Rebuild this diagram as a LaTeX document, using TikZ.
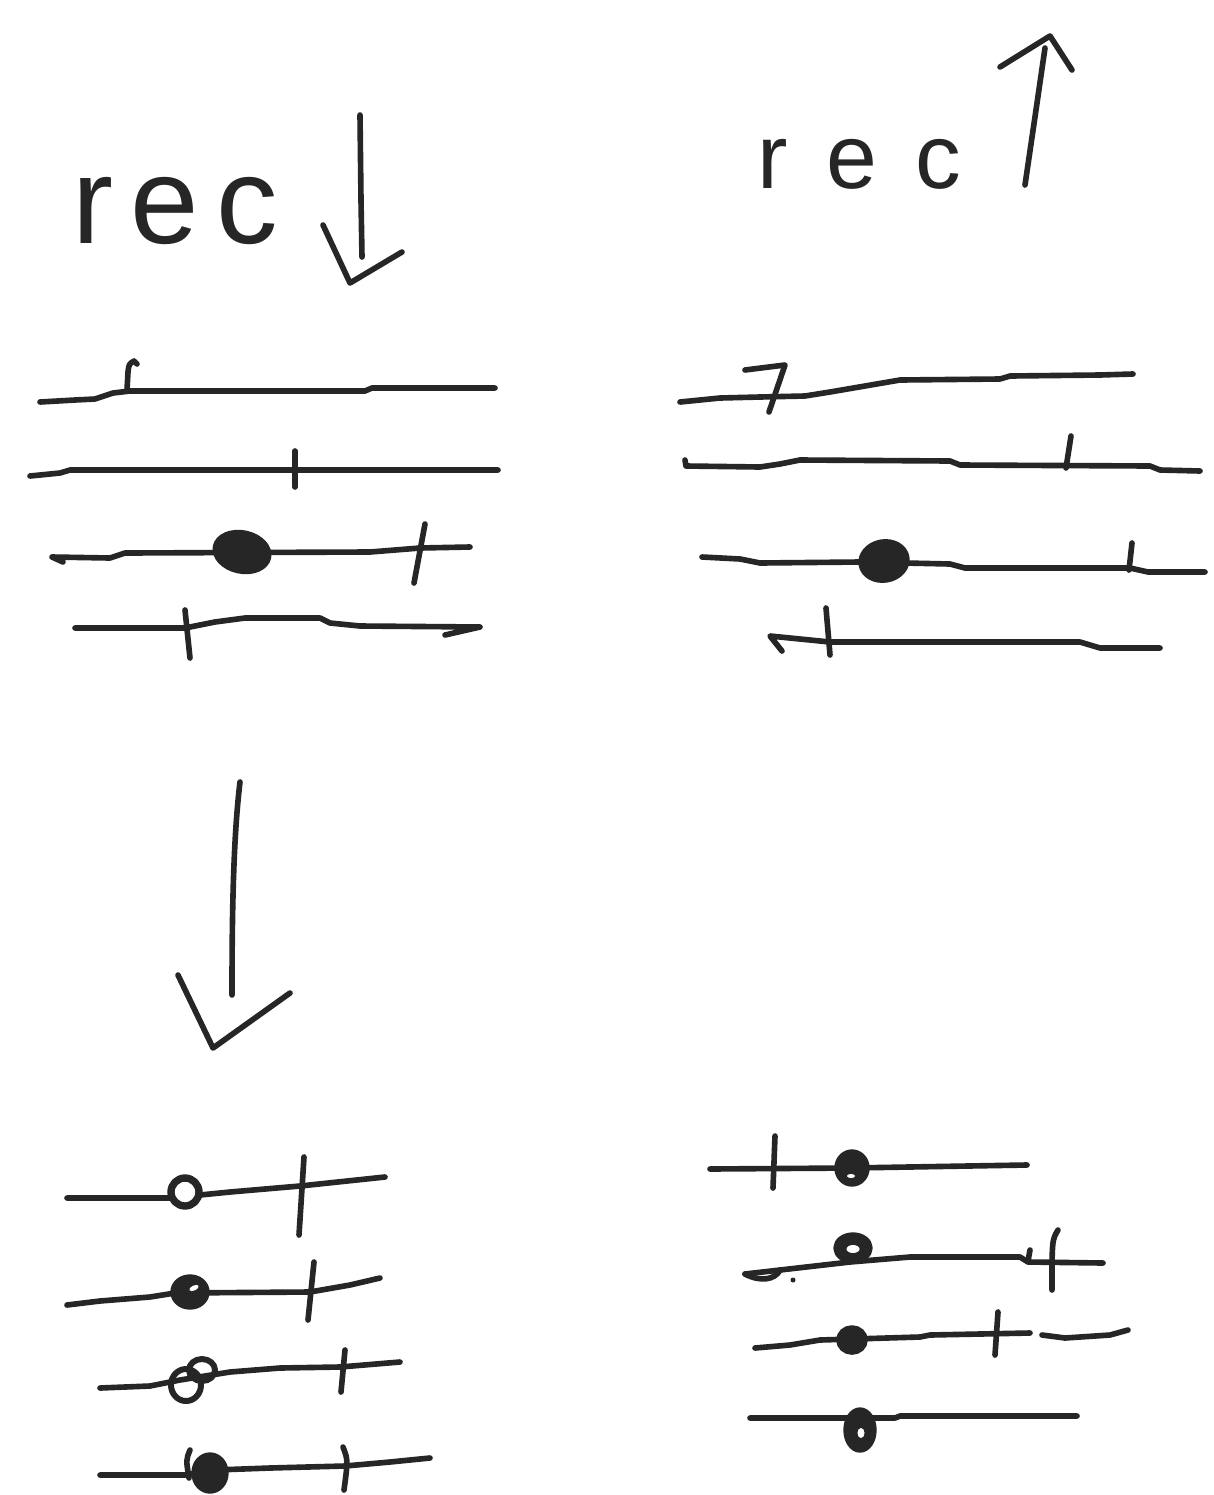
\documentclass[tikz,border=0pt]{standalone}
\usepackage{fontspec}
\setmainfont{Liberation Sans}
\begin{document}
\begin{tikzpicture}[x={(0.02cm,0)}, y={(0,-0.02cm)},
  pen/.style={draw=ink, line width=3.2pt, line cap=round, line join=round},
  bead/.style={pen, fill=ink},
  ring/.style={pen, line width=4.2pt},
  hand/.style={inner sep=0pt, text=ink}]
\definecolor{ink}{HTML}{262626}
\fill[white] (0,0) rectangle (1214,1495);
\useasboundingbox (0,0) rectangle (1214,1495);

% ---- headings ----
\node[hand, anchor=base west] (recdown) at (72,243)
  {\fontsize{70pt}{70pt}\selectfont\addfontfeature{LetterSpace=14}rec};
\node[hand, anchor=base west] (recup) at (757,188)
  {\fontsize{52pt}{52pt}\selectfont\addfontfeature{LetterSpace=42}rec};

% arrow beside the left heading (pointing down)
\draw[pen] (360,115) -- (361,200) -- (362,257);
\draw[pen] (323,225) -- (350,283) -- (402,252);
% arrow beside the right heading (pointing up)
\draw[pen] (1025,185) -- (1036,110) -- (1045,48);
\draw[pen] (1000,67) -- (1050,36) -- (1072,70);

% ---- upper left group ----
\draw[pen] (40,402) -- (75,400) -- (95,399) -- (113,393) -- (130,391) -- (365,391) -- (372,388) -- (495,388);
\draw[pen] (127,390) -- (128,372) .. controls (129,364) .. (134,361) -- (137,364);
\draw[pen] (30,476) -- (60,473) -- (70,470) -- (498,470);
\draw[pen] (295,451) -- (295,487);
\draw[pen] (63,562) -- (52,557) -- (110,558) -- (125,553) -- (370,552) -- (420,548) -- (470,547);
\draw[bead, rotate around={-12:(242,552)}] (242,552) ellipse [x radius=0.54cm, y radius=0.38cm];
\draw[pen] (425,524) -- (414,583);
\draw[pen] (75,628) -- (185,628) -- (215,622) -- (245,618) -- (320,618) -- (330,623) -- (360,626) -- (480,627) -- (445,635);
\draw[pen] (185,610) -- (190,658);

% ---- upper right group ----
\draw[pen] (680,402) -- (720,398) -- (760,397) -- (805,396) -- (830,392) -- (900,380) -- (1000,379) -- (1010,376) -- (1100,375) -- (1133,374);
\draw[pen] (745,370) -- (785,365) -- (769,412);
\draw[pen] (685,460) -- (686,466) -- (760,467) -- (780,464) -- (800,460) -- (950,461) -- (960,465) -- (1150,466) -- (1160,470) -- (1200,471);
\draw[pen] (1071,436) -- (1066,468);
\draw[pen] (702,557) -- (740,559) -- (760,563) -- (860,562) -- (950,564) -- (965,568) -- (1105,568) -- (1130,568) -- (1148,572) -- (1205,572);
\draw[bead, rotate around={10:(884,561)}] (884,561) ellipse [x radius=0.46cm, y radius=0.38cm];
\draw[pen] (1132,543) -- (1129,570);
\draw[pen] (782,651) -- (770,636) -- (780,637) -- (830,642) -- (1080,642) -- (1100,648) -- (1160,648);
\draw[pen] (826,608) -- (830,655);

% ---- long arrow down ----
\draw[pen] (240,782) .. controls (233,840) and (232,920) .. (232,995);
\draw[pen] (178,975) -- (213,1048) -- (290,993);

% ---- lower left group ----
\draw[pen] (67,1198) -- (170,1198) -- (230,1192) -- (300,1186) -- (385,1177);
\draw[ring, fill=white] (185,1192) circle [radius=0.28cm];
\draw[pen] (304,1157) -- (299,1235);
\draw[pen] (67,1305) -- (100,1301) -- (150,1297) -- (175,1293) -- (310,1292) -- (350,1285) -- (380,1278);
\draw[ring, fill=ink] (190,1292) ellipse [x radius=0.32cm, y radius=0.28cm];
\fill[white, rotate around={25:(194,1288)}] (194,1288) ellipse [x radius=0.1cm, y radius=0.05cm];
\draw[pen] (314,1262) -- (308,1320);
\draw[pen] (100,1388) -- (150,1386) -- (180,1380) -- (230,1372) -- (280,1368) -- (340,1367) -- (400,1362);
\draw[ring, line width=3.4pt] (186,1385) ellipse [x radius=0.30cm, y radius=0.32cm];
\draw[ring, line width=3.4pt] (202,1370) ellipse [x radius=0.26cm, y radius=0.22cm];
\draw[pen] (345,1350) -- (341,1392);
\draw[pen] (100,1475) -- (185,1475) -- (215,1470) -- (270,1468) -- (345,1466) -- (390,1462) -- (430,1458);
\draw[ring, fill=ink] (210,1473) ellipse [x radius=0.30cm, y radius=0.34cm];
\draw[pen] (190,1450) .. controls (186,1460) .. (189,1478);
\draw[pen] (343,1447) .. controls (348,1460) .. (344,1490);

% ---- lower right group ----
\draw[pen] (710,1169) -- (850,1168) -- (1027,1165);
\draw[pen] (775,1136) -- (773,1188);
\draw[ring, fill=ink] (852,1168) ellipse [x radius=0.28cm, y radius=0.30cm];
\fill[white] (851,1176) ellipse [x radius=0.08cm, y radius=0.04cm];
\draw[pen] (745,1274) -- (780,1270) -- (850,1262) -- (910,1257) -- (1020,1257) -- (1028,1262) -- (1103,1263);
\draw[pen] (745,1274) .. controls (760,1282) and (775,1280) .. (780,1270);
\fill[ink] (793,1280) circle [radius=0.05cm];
\draw[ring, fill=ink] (853,1248) ellipse [x radius=0.32cm, y radius=0.24cm];
\fill[white] (853,1249) ellipse [x radius=0.13cm, y radius=0.08cm];
\draw[pen] (1058,1230) .. controls (1052,1240) .. (1052,1290);
\draw[pen] (1030,1250) -- (1028,1261);
\draw[pen] (755,1348) -- (790,1345) -- (820,1340) -- (920,1337) -- (930,1335) -- (1030,1333);
\draw[pen] (1042,1335) -- (1065,1338) -- (1110,1335) -- (1128,1330);
\draw[bead] (852,1340) ellipse [x radius=0.26cm, y radius=0.24cm];
\draw[pen] (998,1312) -- (995,1355);
\draw[pen] (750,1418) -- (895,1418) -- (900,1416) -- (1077,1416);
\draw[ring, fill=ink] (860,1430) ellipse [x radius=0.26cm, y radius=0.38cm];
\fill[white] (861,1433) ellipse [x radius=0.07cm, y radius=0.1cm];
\end{tikzpicture}
\end{document}
